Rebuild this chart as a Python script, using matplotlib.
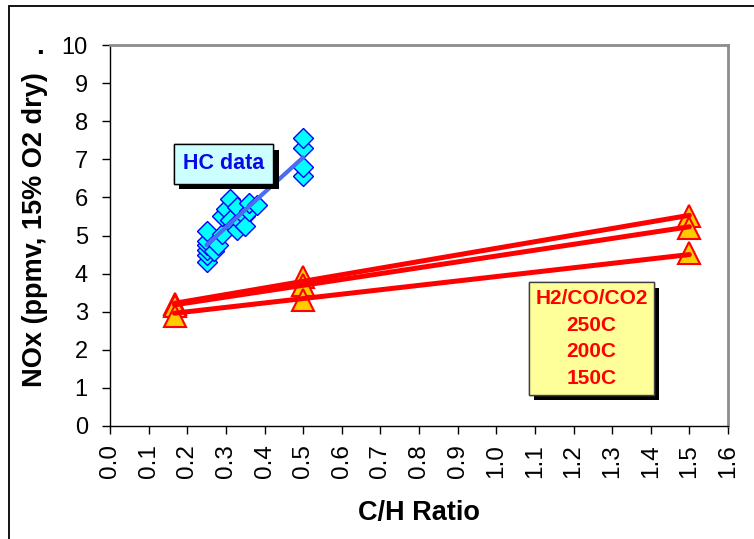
import matplotlib.pyplot as plt
import matplotlib.patheffects as pe
from matplotlib.patches import Rectangle

# ----------------------------
# Data
# ----------------------------
hc_x = [0.25, 0.25, 0.25, 0.25, 0.25, 0.25,
        0.27, 0.28, 0.29, 0.29, 0.30, 0.31, 0.31,
        0.32, 0.33, 0.33, 0.34, 0.35, 0.35, 0.36, 0.36, 0.38,
        0.50, 0.50, 0.50, 0.50]
hc_y = [4.30, 4.50, 4.62, 4.75, 4.85, 5.12,
        4.60, 4.75, 5.05, 5.50, 5.70, 5.95, 5.40,
        5.25, 5.15, 5.75, 5.35, 5.50, 5.25, 5.65, 5.85, 5.80,
        6.55, 6.80, 7.30, 7.55]
hc_fit_x = [0.25, 0.50]
hc_fit_y = [4.75, 7.05]

syn_x = [0.167, 0.5, 1.5]
syn_250 = [3.20, 3.90, 5.50]
syn_200 = [3.15, 3.70, 5.20]
syn_150 = [2.90, 3.30, 4.55]
syn_fit_x = [0.167, 1.5]
fit_250 = [3.22, 5.53]
fit_200 = [3.18, 5.23]
fit_150 = [2.96, 4.50]

x_ticks = [i / 10 for i in range(17)]
y_ticks = list(range(11))

plt.rcParams['font.family'] = ['Liberation Sans', 'DejaVu Sans']

fig = plt.figure(figsize=(7.54, 5.39), dpi=100)
ax = fig.add_axes([110 / 754, 1 - 426 / 539, 618 / 754, 381 / 539])

# outer chart frame
fig.add_artist(Rectangle((9 / 754, -0.5), 2.0, 1.5 - 6 / 539, transform=fig.transFigure,
                         fill=False, ec='black', lw=1.3))

# triangles + trend lines
for ys in (syn_250, syn_200, syn_150):
    ax.plot(syn_x, ys, linestyle='none', marker='^', ms=16, mfc='#FFCC00',
            mec='#FF0000', mew=1.5, zorder=3)
for fy in (fit_250, fit_200, fit_150):
    ax.plot(syn_fit_x, fy, color='#FF0000', lw=3.6, solid_capstyle='round', zorder=4)

# HC data
ax.plot(hc_x, hc_y, linestyle='none', marker='D', ms=10, mfc='#00FFFF',
        mec='#0000FF', mew=1.0, zorder=5)
ax.plot(hc_fit_x, hc_fit_y, color='#4A6CF2', lw=3.0, solid_capstyle='round', zorder=6)

ax.set_xlim(0, 1.6)
ax.set_ylim(0, 10)
ax.set_xticks(x_ticks)
ax.set_xticklabels([f'{v:.1f}' for v in x_ticks], rotation=90, fontsize=17.5)
ax.set_yticks(y_ticks)
ax.set_yticklabels([str(v) for v in y_ticks], fontsize=17)
ax.tick_params(axis='both', direction='out', length=6, width=1, color='black')
ax.tick_params(axis='y', pad=10)
ax.tick_params(axis='x', pad=7)

for s in ('left', 'bottom'):
    ax.spines[s].set_color('black')
    ax.spines[s].set_linewidth(1.0)
for s in ('top', 'right'):
    ax.spines[s].set_color('#8C8C8C')
    ax.spines[s].set_linewidth(2.0)

ax.set_ylabel('NOx (ppmv, 15% O2 dry)', fontsize=19.5, fontweight='bold')
ax.yaxis.set_label_coords(-0.10, 0.515)
ax.set_xlabel('C/H Ratio', fontsize=19.5, fontweight='bold')
ax.xaxis.set_label_coords(0.5, -0.195)

fig.text(40 / 754, 1 - 47 / 539, '.', fontsize=20, fontweight='bold', ha='center', va='center')

shadow = [pe.withSimplePatchShadow(offset=(4, -4), shadow_rgbFace='black', alpha=1.0), pe.Normal()]

t1 = ax.text(0.1837, 0.6877, 'HC data', transform=ax.transAxes, ha='center', va='center',
             fontsize=15.5, fontweight='bold', color='#0A0AE6', zorder=7,
             bbox=dict(boxstyle='square,pad=0.42', fc='#CCFFFF', ec='black', lw=1))
t1.get_bbox_patch().set_path_effects(shadow)

t2 = ax.text(0.779, 0.2297, 'H2/CO/CO2\n250C\n200C\n150C', transform=ax.transAxes,
             ha='center', va='center', fontsize=15, fontweight='bold', color='#FF0000',
             linespacing=1.53, zorder=7,
             bbox=dict(boxstyle='square,pad=0.3', fc='#FFFF99', ec='#404040', lw=1))
t2.get_bbox_patch().set_path_effects(shadow)

fig.savefig('out.png', dpi=100)
